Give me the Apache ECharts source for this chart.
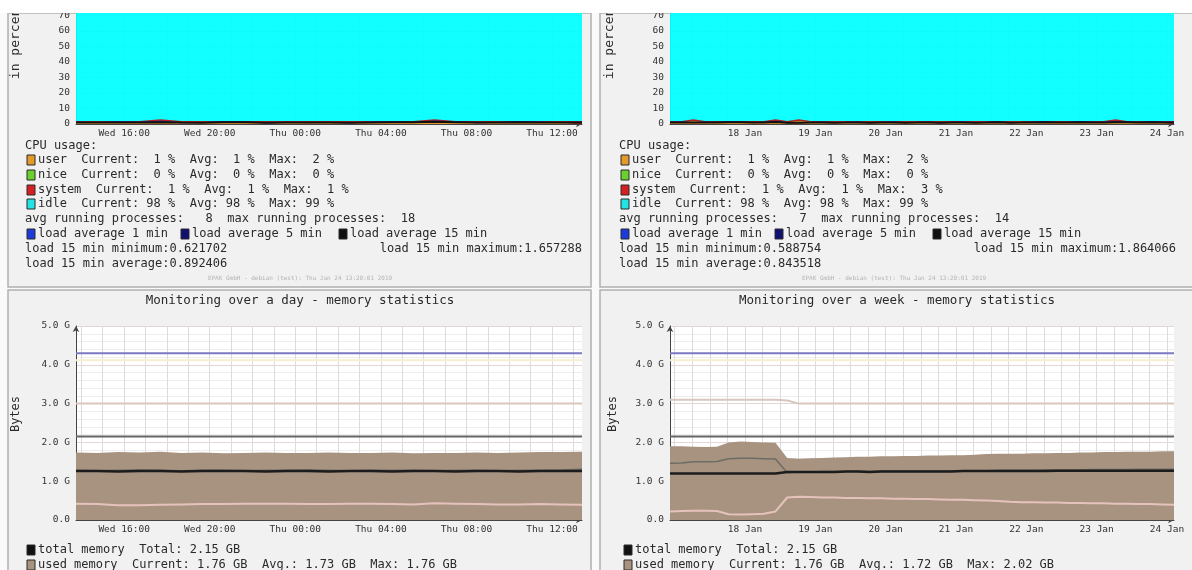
<!DOCTYPE html>
<html>
<head>
<meta charset="utf-8">
<script src="https://cdn.jsdelivr.net/npm/echarts@6/dist/echarts.min.js"></script>
<style>
  html, body { margin: 0; padding: 0; background: #fafafa; }
  #canvas { width: 1192px; height: 570px; }
</style>
</head>
<body>
<div id="canvas"></div>
<script>
// x positions are hours: day graph counts from Wed 23 Jan 00:00, week graph from 17 Jan 00:00
const dayRange = [13.75, 37.4];
const weekRange = [10.4, 182.4];
const dayGridHours = [14, 15, 16, 17, 18, 19, 20, 21, 22, 23, 24, 25, 26, 27, 28, 29, 30, 31, 32, 33, 34, 35, 36, 37];
const dayLabelHours = [16, 20, 24, 28, 32, 36];
const weekGridHours = [12, 18, 24, 30, 36, 42, 48, 54, 60, 66, 72, 78, 84, 90, 96, 102, 108, 114, 120, 126, 132, 138, 144, 150, 156, 162, 168, 174, 180];
const weekLabelHours = [36, 60, 84, 108, 132, 156, 180];

// CPU, last day (25 samples)
const cpuDayUser = [1, 1, 1, 1, 2, 1, 1, 1, 1, 1, 1, 1, 1, 1, 1, 1, 1, 2, 1, 1, 1, 1, 1, 1, 1];
const cpuDayNice = [0, 0, 0, 0, 0, 0, 0, 0, 0, 0, 0, 0, 0, 0, 0, 0, 0, 0, 0, 0, 0, 0, 0, 0, 0];
const cpuDaySystem = [1, 1, 1, 1, 1, 1, 1, 1, 1, 1, 1, 1, 1, 1, 1, 1, 1, 1, 1, 1, 1, 1, 1, 1, 1];
const cpuDayIdle = [98, 98, 98, 98, 97, 98, 98, 98, 98, 98, 98, 98, 98, 98, 98, 98, 98, 97, 98, 98, 98, 98, 98, 98, 98];
const loadDay1 = [1.2, 0.9, 1.5, 1.1, 1.8, 0.8, 0.9, 1.6, 1.3, 0.7, 1.1, 0.9, 1.0, 0.8, 1.2, 1.5, 1.1, 1.9, 1.4, 0.8, 1.0, 1.6, 1.2, 0.9, 1.1];
const loadDay5 = [1.0, 0.95, 1.2, 1.1, 1.4, 0.9, 0.9, 1.3, 1.2, 0.8, 1.0, 0.9, 0.95, 0.85, 1.1, 1.3, 1.1, 1.6, 1.3, 0.9, 1.0, 1.3, 1.1, 0.95, 1.0];
const loadDay15 = [0.9, 0.9, 1.0, 1.0, 1.2, 0.9, 0.85, 1.1, 1.1, 0.8, 0.9, 0.9, 0.9, 0.8, 0.95, 1.1, 1.05, 1.4, 1.2, 0.9, 0.9, 1.1, 1.0, 0.9, 0.9];

// CPU, last week (44 samples)
const cpuWeekUser = [1, 1, 2, 1, 1, 1, 1, 1, 1, 1, 1, 2, 1, 1, 1, 1, 1, 1, 1, 1, 1, 1, 1, 1, 1, 1, 1, 1, 1, 1, 1, 1, 1, 1, 1, 1, 1, 1, 2, 1, 1, 1, 1, 1];
const cpuWeekNice = [0, 0, 0, 0, 0, 0, 0, 0, 0, 0, 0, 0, 0, 0, 0, 0, 0, 0, 0, 0, 0, 0, 0, 0, 0, 0, 0, 0, 0, 0, 0, 0, 0, 0, 0, 0, 0, 0, 0, 0, 0, 0, 0, 0];
const cpuWeekSystem = [1, 1, 1, 1, 1, 1, 1, 1, 1, 2, 1, 1, 1, 1, 1, 1, 1, 1, 1, 1, 1, 1, 1, 1, 1, 1, 1, 1, 1, 1, 1, 1, 1, 1, 1, 1, 1, 1, 1, 1, 1, 1, 1, 1];
const cpuWeekIdle = [98, 98, 97, 98, 98, 98, 98, 98, 98, 97, 98, 97, 98, 98, 98, 98, 98, 98, 98, 98, 98, 98, 98, 98, 98, 98, 98, 98, 98, 98, 98, 98, 98, 98, 98, 98, 98, 98, 97, 98, 98, 98, 98, 98];
const loadWeek1 = [1.1, 1.3, 0.9, 1.2, 1.0, 1.6, 1.4, 0.9, 1.1, 1.8, 0.8, 0.9, 1.0, 1.2, 0.9, 1.1, 1.3, 0.8, 1.0, 1.4, 0.9, 1.0, 1.2, 0.8, 1.0, 1.3, 0.9, 1.1, 1.4, 0.9, 1.0, 1.2, 1.5, 1.0, 1.1, 1.6, 1.2, 1.0, 1.7, 1.3, 1.1, 1.5, 1.2, 1.1];
const loadWeek5 = [1.0, 1.1, 0.9, 1.1, 1.0, 1.3, 1.2, 0.9, 1.0, 1.5, 0.85, 0.9, 0.95, 1.1, 0.9, 1.0, 1.1, 0.85, 0.95, 1.2, 0.9, 0.95, 1.1, 0.85, 0.95, 1.1, 0.9, 1.0, 1.2, 0.9, 0.95, 1.1, 1.3, 1.0, 1.05, 1.3, 1.1, 1.0, 1.4, 1.2, 1.05, 1.3, 1.1, 1.0];
const loadWeek15 = [0.9, 1.0, 0.9, 1.0, 0.95, 1.1, 1.1, 0.9, 0.95, 1.3, 0.85, 0.85, 0.9, 1.0, 0.85, 0.9, 1.0, 0.8, 0.9, 1.0, 0.85, 0.9, 1.0, 0.8, 0.9, 1.0, 0.85, 0.9, 1.1, 0.85, 0.9, 1.0, 1.1, 0.95, 1.0, 1.1, 1.0, 0.95, 1.2, 1.1, 1.0, 1.1, 1.0, 0.95];

// memory, last day (25 samples, GB)
const memDayBlue = [4.3, 4.3, 4.3, 4.3, 4.3, 4.3, 4.3, 4.3, 4.3, 4.3, 4.3, 4.3, 4.3, 4.3, 4.3, 4.3, 4.3, 4.3, 4.3, 4.3, 4.3, 4.3, 4.3, 4.3, 4.3];
const memDayYellow = [4.12, 4.12, 4.12, 4.12, 4.12, 4.12, 4.12, 4.12, 4.12, 4.12, 4.12, 4.12, 4.12, 4.12, 4.12, 4.12, 4.12, 4.12, 4.12, 4.12, 4.12, 4.12, 4.12, 4.12, 4.12];
const memDayTan = [3.0, 3.0, 3.0, 3.0, 3.0, 3.0, 3.0, 3.0, 3.0, 3.0, 3.0, 3.0, 3.0, 3.0, 3.0, 3.0, 3.0, 3.0, 3.0, 3.0, 3.0, 3.0, 3.0, 3.0, 3.0];
const memDayTotal = [2.15, 2.15, 2.15, 2.15, 2.15, 2.15, 2.15, 2.15, 2.15, 2.15, 2.15, 2.15, 2.15, 2.15, 2.15, 2.15, 2.15, 2.15, 2.15, 2.15, 2.15, 2.15, 2.15, 2.15, 2.15];
const memDayUsed = [1.74, 1.73, 1.75, 1.74, 1.76, 1.73, 1.74, 1.72, 1.73, 1.74, 1.73, 1.73, 1.74, 1.73, 1.73, 1.74, 1.72, 1.73, 1.73, 1.74, 1.73, 1.74, 1.75, 1.75, 1.76];
const memDayGray = [1.28, 1.27, 1.28, 1.29, 1.28, 1.27, 1.28, 1.28, 1.27, 1.28, 1.28, 1.29, 1.28, 1.27, 1.28, 1.28, 1.28, 1.27, 1.28, 1.28, 1.27, 1.28, 1.28, 1.29, 1.31];
const memDayBlack = [1.26, 1.26, 1.25, 1.26, 1.26, 1.25, 1.26, 1.26, 1.26, 1.25, 1.26, 1.26, 1.25, 1.26, 1.26, 1.25, 1.26, 1.26, 1.25, 1.26, 1.26, 1.25, 1.26, 1.26, 1.26];
const memDayPink = [0.42, 0.41, 0.38, 0.38, 0.39, 0.4, 0.41, 0.41, 0.42, 0.42, 0.42, 0.41, 0.41, 0.42, 0.42, 0.41, 0.4, 0.43, 0.42, 0.41, 0.4, 0.4, 0.41, 0.4, 0.39];

// memory, last week (44 samples, GB)
const memWeekBlue = [4.3, 4.3, 4.3, 4.3, 4.3, 4.3, 4.3, 4.3, 4.3, 4.3, 4.3, 4.3, 4.3, 4.3, 4.3, 4.3, 4.3, 4.3, 4.3, 4.3, 4.3, 4.3, 4.3, 4.3, 4.3, 4.3, 4.3, 4.3, 4.3, 4.3, 4.3, 4.3, 4.3, 4.3, 4.3, 4.3, 4.3, 4.3, 4.3, 4.3, 4.3, 4.3, 4.3, 4.3];
const memWeekYellow = [4.12, 4.12, 4.12, 4.12, 4.12, 4.12, 4.12, 4.12, 4.12, 4.12, 4.12, 4.12, 4.12, 4.12, 4.12, 4.12, 4.12, 4.12, 4.12, 4.12, 4.12, 4.12, 4.12, 4.12, 4.12, 4.12, 4.12, 4.12, 4.12, 4.12, 4.12, 4.12, 4.12, 4.12, 4.12, 4.12, 4.12, 4.12, 4.12, 4.12, 4.12, 4.12, 4.12, 4.12];
const memWeekTan = [3.1, 3.1, 3.1, 3.1, 3.1, 3.1, 3.1, 3.1, 3.1, 3.1, 3.08, 3.0, 3.0, 3.0, 3.0, 3.0, 3.0, 3.0, 3.0, 3.0, 3.0, 3.0, 3.0, 3.0, 3.0, 3.0, 3.0, 3.0, 3.0, 3.0, 3.0, 3.0, 3.0, 3.0, 3.0, 3.0, 3.0, 3.0, 3.0, 3.0, 3.0, 3.0, 3.0, 3.0];
const memWeekTotal = [2.15, 2.15, 2.15, 2.15, 2.15, 2.15, 2.15, 2.15, 2.15, 2.15, 2.15, 2.15, 2.15, 2.15, 2.15, 2.15, 2.15, 2.15, 2.15, 2.15, 2.15, 2.15, 2.15, 2.15, 2.15, 2.15, 2.15, 2.15, 2.15, 2.15, 2.15, 2.15, 2.15, 2.15, 2.15, 2.15, 2.15, 2.15, 2.15, 2.15, 2.15, 2.15, 2.15, 2.15];
const memWeekUsed = [1.9, 1.9, 1.89, 1.88, 1.89, 2.0, 2.02, 2.01, 2.0, 1.99, 1.6, 1.58, 1.59, 1.6, 1.61, 1.62, 1.63, 1.63, 1.64, 1.64, 1.65, 1.65, 1.66, 1.66, 1.67, 1.67, 1.68, 1.7, 1.71, 1.71, 1.71, 1.72, 1.72, 1.73, 1.73, 1.74, 1.74, 1.75, 1.75, 1.76, 1.76, 1.76, 1.77, 1.77];
const memWeekGray = [1.46, 1.47, 1.5, 1.5, 1.51, 1.58, 1.59, 1.59, 1.58, 1.57, 1.22, 1.24, 1.24, 1.25, 1.25, 1.25, 1.26, 1.25, 1.26, 1.26, 1.26, 1.26, 1.26, 1.27, 1.27, 1.27, 1.27, 1.27, 1.28, 1.28, 1.28, 1.28, 1.29, 1.29, 1.29, 1.29, 1.3, 1.3, 1.3, 1.3, 1.31, 1.31, 1.31, 1.31];
const memWeekBlack = [1.2, 1.2, 1.2, 1.2, 1.2, 1.2, 1.2, 1.2, 1.2, 1.2, 1.24, 1.24, 1.24, 1.24, 1.24, 1.25, 1.25, 1.24, 1.25, 1.25, 1.25, 1.25, 1.25, 1.25, 1.25, 1.26, 1.26, 1.26, 1.26, 1.26, 1.26, 1.26, 1.26, 1.27, 1.27, 1.27, 1.27, 1.27, 1.27, 1.27, 1.27, 1.27, 1.27, 1.27];
const memWeekPink = [0.22, 0.23, 0.24, 0.24, 0.23, 0.15, 0.14, 0.15, 0.16, 0.22, 0.58, 0.6, 0.59, 0.58, 0.58, 0.57, 0.57, 0.56, 0.56, 0.55, 0.55, 0.54, 0.54, 0.53, 0.52, 0.52, 0.51, 0.5, 0.49, 0.47, 0.46, 0.46, 0.45, 0.45, 0.44, 0.44, 0.43, 0.43, 0.42, 0.42, 0.41, 0.41, 0.4, 0.39];

const MONO = "'DejaVu Sans Mono', monospace";

function pts(range, vals) {
  const step = (range[1] - range[0]) / (vals.length - 1);
  return vals.map((v, i) => [range[0] + i * step, v]);
}
// running sum of several series, for a hand-made stack (drawn top layer first)
function cum(...arrs) {
  return arrs[0].map((_, i) => arrs.reduce((s, a) => s + a[i], 0));
}

function dayLabel(h) {
  return (h < 24 ? "Wed " : "Thu ") + String(h % 24).padStart(2, "0") + ":00";
}
function weekLabel(h) {
  return (17 + Math.floor(h / 24)) + " Jan";
}

function xAxisFor(gridIndex, range, gridHours, labelHours, fmt) {
  return {
    type: "value", gridIndex: gridIndex, min: range[0], max: range[1],
    axisLine: { show: true, lineStyle: { color: "#444" }, symbol: ["none", "arrow"], symbolSize: [5, 6] },
    axisTick: { show: false, customValues: gridHours },
    axisLabel: { customValues: labelHours, formatter: fmt, fontFamily: MONO, fontSize: 9.5, color: "#333", margin: 5 },
    splitLine: { show: true, lineStyle: { color: "#dcdcdc", width: 1 } }
  };
}

function yAxisFor(gridIndex, max, interval, minorSplit, fmt) {
  return {
    type: "value", gridIndex: gridIndex, min: 0, max: max, interval: interval,
    axisLine: { show: true, lineStyle: { color: "#444" }, symbol: ["none", "arrow"], symbolSize: [5, 6] },
    axisTick: { show: false },
    axisLabel: { formatter: fmt, fontFamily: MONO, fontSize: 9.5, color: "#333", margin: 6 },
    splitLine: { show: true, lineStyle: { color: "#e2d6d6" } },
    minorTick: { show: false, splitNumber: minorSplit },
    minorSplitLine: { show: true, lineStyle: { color: "#eeeeee" } }
  };
}

function cpuSeries(idx, range, user, nice, system, idle, l1, l5, l15) {
  const area = (name, data, color, opacity, z) => ({
    name: name, type: "line", xAxisIndex: idx, yAxisIndex: idx, z: z,
    data: pts(range, data), symbol: "none", lineStyle: { width: 0 },
    areaStyle: { color: color, opacity: opacity }
  });
  const line = (name, data, color, width) => ({
    name: name, type: "line", xAxisIndex: idx, yAxisIndex: idx,
    data: pts(range, data), symbol: "none", z: 6, lineStyle: { color: color, width: width }
  });
  return [
    area("idle", cum(user, nice, system, idle), "#00ffff", 0.93, 2),
    area("system", cum(user, nice, system), "#b02020", 1, 3),
    area("nice", cum(user, nice), "#6ad12c", 1, 4),
    area("user", user, "#e39a2a", 1, 5),
    line("load average 1 min", l1, "#1a3cd8", 1),
    line("load average 5 min", l5, "#101070", 1),
    line("load average 15 min", l15, "#111111", 2)
  ];
}

function memSeries(idx, range, blue, yellow, tan, total, used, gray, black, pink) {
  const line = (name, data, color, width) => ({
    name: name, type: "line", xAxisIndex: idx, yAxisIndex: idx,
    data: pts(range, data), symbol: "none", z: 5, lineStyle: { color: color, width: width }
  });
  return [
    {
      name: "used memory", type: "line", xAxisIndex: idx, yAxisIndex: idx,
      data: pts(range, used), symbol: "none", lineStyle: { width: 0 },
      areaStyle: { color: "#a89380", opacity: 1 }
    },
    line("blue", blue, "#7b7bc4", 2),
    line("yellow", yellow, "#f6f0d2", 2),
    line("tan", tan, "#d9c6be", 2),
    line("total memory", total, "#666666", 2),
    line("pink", pink, "#e6c2bc", 2),
    line("gray", gray, "#6c6c64", 1.5),
    line("black", black, "#1c1c1c", 2.5)
  ];
}

// legend and panel decoration
function txt(x, y, text, opts) {
  opts = opts || {};
  return {
    type: "text", x: x, y: y, z: 50, rotation: opts.rotation || 0,
    style: {
      text: text, fill: opts.fill || "#2a2a2a",
      font: (opts.size || 12) + "px " + MONO,
      textAlign: opts.align || "left", textVerticalAlign: "middle"
    }
  };
}
function swatch(x, y, color) {
  return {
    type: "rect", z: 50, shape: { x: x, y: y - 5, width: 8, height: 10 },
    style: { fill: color, stroke: "#2a2a2a", lineWidth: 1 }
  };
}
function panel(x, y, w, h) {
  return {
    type: "rect", z: -10, shape: { x: x, y: y, width: w, height: h },
    style: { fill: "#f1f1f1", stroke: "#b0b0b0", lineWidth: 1.5 }
  };
}

function cpuLegend(dx, stats) {
  const rows = [146, 160, 175, 190, 204, 219, 234, 249, 264];
  return [
    txt(16 + dx, 40, "in percent", { size: 13, align: "center", rotation: Math.PI / 2 }),
    txt(25 + dx, rows[0], "CPU usage:"),
    swatch(27 + dx, rows[1], "#e39a2a"), txt(38 + dx, rows[1], stats.user),
    swatch(27 + dx, rows[2], "#6ad12c"), txt(38 + dx, rows[2], stats.nice),
    swatch(27 + dx, rows[3], "#d42020"), txt(38 + dx, rows[3], stats.system),
    swatch(27 + dx, rows[4], "#22e4e4"), txt(38 + dx, rows[4], stats.idle),
    txt(25 + dx, rows[5], stats.procs),
    swatch(27 + dx, rows[6], "#1a3cd8"), txt(38 + dx, rows[6], "load average 1 min"),
    swatch(181 + dx, rows[6], "#101070"), txt(192 + dx, rows[6], "load average 5 min"),
    swatch(339 + dx, rows[6], "#111111"), txt(350 + dx, rows[6], "load average 15 min"),
    txt(25 + dx, rows[7], stats.min),
    txt(582 + dx, rows[7], stats.max, { align: "right" }),
    txt(25 + dx, rows[8], stats.avg),
    txt(300 + dx, 278, "EPAK GmbH - debian (test): Thu Jan 24 13:20:01 2019", { size: 6, fill: "#b4b4b4", align: "center" })
  ];
}

function memLegend(dx, title, usedText) {
  return [
    txt(16 + dx, 414, "Bytes", { size: 12, align: "center", rotation: Math.PI / 2 }),
    txt(300 + dx, 301, title, { size: 12.5, align: "center" }),
    swatch(27 + dx, 550, "#111111"), txt(38 + dx, 550, "total memory  Total: 2.15 GB"),
    swatch(27 + dx, 565, "#a89380"), txt(38 + dx, 565, usedText)
  ];
}

const graphics = [
  panel(8, 13, 583, 274),
  panel(8, 290, 583, 300),
  panel(600, 13, 620, 274),
  panel(600, 290, 620, 300)
].concat(
  cpuLegend(0, {
    user: "user  Current:  1 %  Avg:  1 %  Max:  2 %",
    nice: "nice  Current:  0 %  Avg:  0 %  Max:  0 %",
    system: "system  Current:  1 %  Avg:  1 %  Max:  1 %",
    idle: "idle  Current: 98 %  Avg: 98 %  Max: 99 %",
    procs: "avg running processes:   8  max running processes:  18",
    min: "load 15 min minimum:0.621702",
    max: "load 15 min maximum:1.657288",
    avg: "load 15 min average:0.892406"
  }),
  cpuLegend(594, {
    user: "user  Current:  1 %  Avg:  1 %  Max:  2 %",
    nice: "nice  Current:  0 %  Avg:  0 %  Max:  0 %",
    system: "system  Current:  1 %  Avg:  1 %  Max:  3 %",
    idle: "idle  Current: 98 %  Avg: 98 %  Max: 99 %",
    procs: "avg running processes:   7  max running processes:  14",
    min: "load 15 min minimum:0.588754",
    max: "load 15 min maximum:1.864066",
    avg: "load 15 min average:0.843518"
  }),
  memLegend(0, "Monitoring over a day - memory statistics",
    "used memory  Current: 1.76 GB  Avg.: 1.73 GB  Max: 1.76 GB"),
  memLegend(597, "Monitoring over a week - memory statistics",
    "used memory  Current: 1.76 GB  Avg.: 1.72 GB  Max: 2.02 GB"),
  [{ type: "rect", z: 100, shape: { x: 0, y: 0, width: 1192, height: 13 }, style: { fill: "#ffffff" } }]
);

const pctFmt = (v) => String(v);
const gbFmt = (v) => v === 0 ? "0.0" : v.toFixed(1) + " G";

const gridBase = { show: true, backgroundColor: "#ffffff", borderWidth: 0, containLabel: false, outerBoundsMode: "none" };

const myChart = echarts.init(document.querySelector("#canvas"));
myChart.setOption({
  animation: false,
  backgroundColor: "#fafafa",
  grid: [
    Object.assign({ left: 76, width: 506, top: -31, height: 155 }, gridBase),
    Object.assign({ left: 670, width: 504, top: -31, height: 155 }, gridBase),
    Object.assign({ left: 76, width: 506, top: 326, height: 194 }, gridBase),
    Object.assign({ left: 670, width: 504, top: 326, height: 194 }, gridBase)
  ],
  xAxis: [
    xAxisFor(0, dayRange, dayGridHours, dayLabelHours, dayLabel),
    xAxisFor(1, weekRange, weekGridHours, weekLabelHours, weekLabel),
    xAxisFor(2, dayRange, dayGridHours, dayLabelHours, dayLabel),
    xAxisFor(3, weekRange, weekGridHours, weekLabelHours, weekLabel)
  ],
  yAxis: [
    yAxisFor(0, 100, 10, 2, pctFmt),
    yAxisFor(1, 100, 10, 2, pctFmt),
    yAxisFor(2, 5, 1, 5, gbFmt),
    yAxisFor(3, 5, 1, 5, gbFmt)
  ],
  graphic: { elements: graphics },
  series: [].concat(
    cpuSeries(0, dayRange, cpuDayUser, cpuDayNice, cpuDaySystem, cpuDayIdle, loadDay1, loadDay5, loadDay15),
    cpuSeries(1, weekRange, cpuWeekUser, cpuWeekNice, cpuWeekSystem, cpuWeekIdle, loadWeek1, loadWeek5, loadWeek15),
    memSeries(2, dayRange, memDayBlue, memDayYellow, memDayTan, memDayTotal, memDayUsed, memDayGray, memDayBlack, memDayPink),
    memSeries(3, weekRange, memWeekBlue, memWeekYellow, memWeekTan, memWeekTotal, memWeekUsed, memWeekGray, memWeekBlack, memWeekPink)
  )
});
</script>
</body>
</html>
